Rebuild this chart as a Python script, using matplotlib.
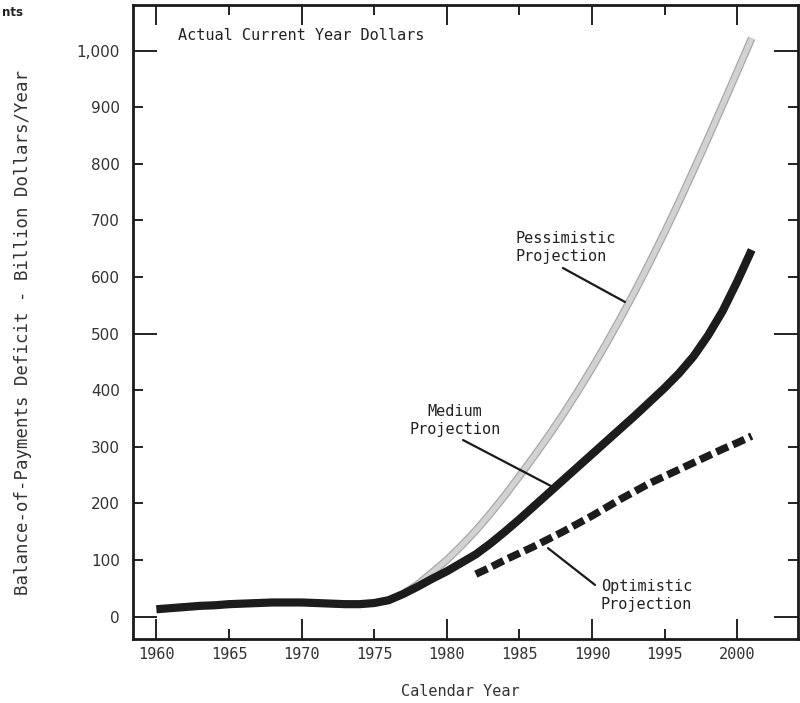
import matplotlib
matplotlib.use("Agg")
import matplotlib.pyplot as plt
from matplotlib.ticker import FixedLocator, FuncFormatter

# actual deficit, shared by all three projections (billion dollars / year)
hist_years = list(range(1960, 1978))
hist_deficit = [13, 15, 17, 19, 20, 22, 23, 24, 25, 25, 25, 24, 23, 22, 22, 24, 29, 40]

proj_years = list(range(1977, 2002))
medium = [40, 53, 67, 80, 95, 110, 129, 150, 172, 195, 218, 241, 264, 287, 310,
          333, 356, 380, 404, 430, 460, 497, 540, 592, 648]
pessimistic = [40, 57, 78, 100, 125, 152, 182, 214, 248, 283, 319, 357, 397, 439,
               483, 529, 577, 627, 679, 733, 789, 846, 904, 963, 1022]

opt_years = list(range(1982, 2002))
optimistic = [75, 87, 100, 112, 124, 137, 150, 164, 178, 193, 208, 222, 236, 248,
              260, 272, 284, 296, 307, 319]

year_long = [1960, 1970, 1980, 1990, 2000]
year_short = [1965, 1975, 1985, 1995]
deficit_long = [0, 500, 1000]
deficit_short = [100, 200, 300, 400, 600, 700, 800, 900]

MONO = "DejaVu Sans Mono"

fig = plt.figure(figsize=(8.0, 7.03), dpi=100)
ax = fig.add_axes([0.16625, 0.0910, 0.83125, 0.9018])

# pessimistic: light grey band with slightly darker edges
ax.plot(proj_years, pessimistic, color="#a8a8a8", lw=5.6, solid_capstyle="butt", zorder=2)
ax.plot(proj_years, pessimistic, color="#d2d2d2", lw=3.8, solid_capstyle="butt", zorder=2)

# optimistic: heavy dashes
ax.plot(opt_years, optimistic, color="#1c1c1c", lw=5.4, dashes=(1.7, 0.7),
        dash_capstyle="butt", zorder=3)

# actual + medium drawn as one band so the join is clean
ax.plot(hist_years + proj_years[1:], hist_deficit + medium[1:], color="#1c1c1c",
        lw=5.9, solid_capstyle="butt", solid_joinstyle="round", zorder=4)

ax.set_xlim(1958.39, 2004.19)
ax.set_ylim(-39.6, 1080.6)

ax.xaxis.set_major_locator(FixedLocator(year_long))
ax.xaxis.set_minor_locator(FixedLocator(year_short))
ax.yaxis.set_major_locator(FixedLocator(deficit_long))
ax.yaxis.set_minor_locator(FixedLocator(deficit_short))
yfmt = FuncFormatter(lambda v, p: f"{int(v):,}")
xfmt = FuncFormatter(lambda v, p: f"{int(v)}")
ax.xaxis.set_major_formatter(xfmt)
ax.xaxis.set_minor_formatter(xfmt)
ax.yaxis.set_major_formatter(yfmt)
ax.yaxis.set_minor_formatter(yfmt)

ax.tick_params(axis="both", which="both", direction="in", top=True, right=True,
               width=1.4, color="#222222", labelcolor="#333333", labelsize=11)
ax.tick_params(axis="x", which="major", length=14.5, pad=6)
ax.tick_params(axis="x", which="minor", length=7.5, pad=6)
ax.tick_params(axis="y", which="major", length=17, pad=9.5)
ax.tick_params(axis="y", which="minor", length=7, pad=9.5)

for lab in ax.get_xticklabels(which="both"):
    lab.set_family(MONO)
for lab in ax.get_yticklabels(which="both"):
    lab.set_family("DejaVu Sans")

for sp in ax.spines.values():
    sp.set_linewidth(2.0)
    sp.set_color("#1a1a1a")

ax.set_xlabel("Calendar Year", family=MONO, fontsize=11, color="#333333", va="center")
ax.xaxis.set_label_coords(0.492, -0.082)
ax.set_ylabel("Balance-of-Payments Deficit - Billion Dollars/Year", family=MONO,
              fontsize=12.5, color="#333333", va="center", ha="center")
ax.yaxis.set_label_coords(-0.165, 0.483)

txt = dict(family=MONO, fontsize=11, color="#222222", linespacing=1.25)
ax.text(1961.5, 1027, "Actual Current Year Dollars", ha="left", va="center", **txt)
ax.text(1984.7, 652, "Pessimistic\nProjection", ha="left", va="center", **txt)
ax.text(1980.56, 346, "Medium\nProjection", ha="center", va="center",
        multialignment="center", **txt)
ax.text(1990.62, 38, "Optimistic\nProjection", ha="left", va="center", **txt)

line = dict(arrowstyle="-", lw=1.6, color="#1a1a1a", shrinkA=0, shrinkB=0)
ax.annotate("", xy=(1992.27, 556), xytext=(1988.0, 616), arrowprops=line)
ax.annotate("", xy=(1987.31, 229), xytext=(1981.12, 312), arrowprops=line)
ax.annotate("", xy=(1990.21, 56), xytext=(1986.97, 121), arrowprops=line)

# fragment of the page title, left over at the top-left edge
fig.text(0.002, 1 - 13 / 703, "nts", ha="left", va="center",
         fontsize=8.5, weight="bold", family="DejaVu Sans", color="#222222")

fig.savefig("out.png", dpi=100)
